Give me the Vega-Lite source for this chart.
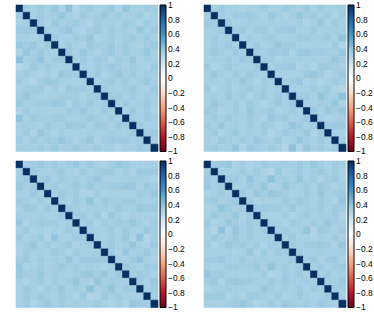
{
"$schema": "https://vega.github.io/schema/vega-lite/v6.json",
"padding": {"left": 15, "top": 4, "right": 0, "bottom": 0},
"config": {"view": {"stroke": null}, "font": "Liberation Sans"},
"data": {"values": [
{"p":"A","r":1,"c":[1,2,3,4,5,6,7,8,9,10,11,12,13,14,15,16,17,18,19,20],"v":[1,0.35,0.33,0.36,0.34,0.38,0.32,0.41,0.30,0.34,0.36,0.33,0.35,0.37,0.31,0.40,0.34,0.33,0.36,0.35]},
{"p":"A","r":2,"c":[1,2,3,4,5,6,7,8,9,10,11,12,13,14,15,16,17,18,19,20],"v":[0.35,1,0.34,0.37,0.33,0.35,0.39,0.34,0.32,0.36,0.33,0.35,0.38,0.34,0.36,0.33,0.35,0.37,0.32,0.34]},
{"p":"A","r":3,"c":[1,2,3,4,5,6,7,8,9,10,11,12,13,14,15,16,17,18,19,20],"v":[0.33,0.34,1,0.36,0.32,0.38,0.34,0.35,0.37,0.33,0.31,0.36,0.34,0.35,0.33,0.37,0.35,0.32,0.36,0.34]},
{"p":"A","r":4,"c":[1,2,3,4,5,6,7,8,9,10,11,12,13,14,15,16,17,18,19,20],"v":[0.36,0.37,0.36,1,0.35,0.33,0.36,0.40,0.34,0.32,0.35,0.37,0.33,0.36,0.34,0.35,0.33,0.38,0.34,0.36]},
{"p":"A","r":5,"c":[1,2,3,4,5,6,7,8,9,10,11,12,13,14,15,16,17,18,19,20],"v":[0.34,0.33,0.32,0.35,1,0.37,0.34,0.33,0.36,0.35,0.38,0.32,0.34,0.36,0.33,0.35,0.37,0.34,0.36,0.33]},
{"p":"A","r":6,"c":[1,2,3,4,5,6,7,8,9,10,11,12,13,14,15,16,17,18,19,20],"v":[0.38,0.35,0.38,0.33,0.37,1,0.33,0.36,0.34,0.32,0.37,0.35,0.34,0.38,0.33,0.36,0.34,0.32,0.35,0.37]},
{"p":"A","r":7,"c":[1,2,3,4,5,6,7,8,9,10,11,12,13,14,15,16,17,18,19,20],"v":[0.32,0.39,0.34,0.36,0.34,0.33,1,0.36,0.33,0.38,0.34,0.32,0.35,0.37,0.33,0.36,0.34,0.35,0.39,0.33]},
{"p":"A","r":8,"c":[1,2,3,4,5,6,7,8,9,10,11,12,13,14,15,16,17,18,19,20],"v":[0.41,0.34,0.35,0.40,0.33,0.36,0.36,1,0.34,0.36,0.33,0.37,0.35,0.32,0.36,0.34,0.38,0.33,0.35,0.34]},
{"p":"A","r":9,"c":[1,2,3,4,5,6,7,8,9,10,11,12,13,14,15,16,17,18,19,20],"v":[0.30,0.32,0.37,0.34,0.36,0.34,0.33,0.34,1,0.35,0.33,0.36,0.34,0.37,0.35,0.33,0.36,0.34,0.32,0.37]},
{"p":"A","r":10,"c":[1,2,3,4,5,6,7,8,9,10,11,12,13,14,15,16,17,18,19,20],"v":[0.34,0.36,0.33,0.32,0.35,0.32,0.38,0.36,0.35,1,0.34,0.36,0.32,0.35,0.38,0.34,0.36,0.33,0.35,0.34]},
{"p":"A","r":11,"c":[1,2,3,4,5,6,7,8,9,10,11,12,13,14,15,16,17,18,19,20],"v":[0.36,0.33,0.31,0.35,0.38,0.37,0.34,0.33,0.33,0.34,1,0.33,0.35,0.37,0.34,0.36,0.33,0.35,0.38,0.33]},
{"p":"A","r":12,"c":[1,2,3,4,5,6,7,8,9,10,11,12,13,14,15,16,17,18,19,20],"v":[0.33,0.35,0.36,0.37,0.32,0.35,0.32,0.37,0.36,0.36,0.33,1,0.36,0.34,0.33,0.35,0.37,0.34,0.32,0.36]},
{"p":"A","r":13,"c":[1,2,3,4,5,6,7,8,9,10,11,12,13,14,15,16,17,18,19,20],"v":[0.35,0.38,0.34,0.33,0.34,0.34,0.35,0.35,0.34,0.32,0.35,0.36,1,0.35,0.37,0.33,0.36,0.34,0.35,0.33]},
{"p":"A","r":14,"c":[1,2,3,4,5,6,7,8,9,10,11,12,13,14,15,16,17,18,19,20],"v":[0.37,0.34,0.35,0.36,0.36,0.38,0.37,0.32,0.37,0.35,0.37,0.34,0.35,1,0.34,0.36,0.33,0.35,0.37,0.34]},
{"p":"A","r":15,"c":[1,2,3,4,5,6,7,8,9,10,11,12,13,14,15,16,17,18,19,20],"v":[0.31,0.36,0.33,0.34,0.33,0.33,0.33,0.36,0.35,0.38,0.34,0.33,0.37,0.34,1,0.33,0.37,0.34,0.36,0.32]},
{"p":"A","r":16,"c":[1,2,3,4,5,6,7,8,9,10,11,12,13,14,15,16,17,18,19,20],"v":[0.40,0.33,0.37,0.35,0.35,0.36,0.36,0.34,0.33,0.34,0.36,0.35,0.33,0.36,0.33,1,0.35,0.33,0.36,0.34]},
{"p":"A","r":17,"c":[1,2,3,4,5,6,7,8,9,10,11,12,13,14,15,16,17,18,19,20],"v":[0.34,0.35,0.35,0.33,0.37,0.34,0.34,0.38,0.36,0.36,0.33,0.37,0.36,0.33,0.37,0.35,1,0.36,0.34,0.33]},
{"p":"A","r":18,"c":[1,2,3,4,5,6,7,8,9,10,11,12,13,14,15,16,17,18,19,20],"v":[0.33,0.37,0.32,0.38,0.34,0.32,0.35,0.33,0.34,0.33,0.35,0.34,0.34,0.35,0.34,0.33,0.36,1,0.35,0.37]},
{"p":"A","r":19,"c":[1,2,3,4,5,6,7,8,9,10,11,12,13,14,15,16,17,18,19,20],"v":[0.36,0.32,0.36,0.34,0.36,0.35,0.39,0.35,0.32,0.35,0.38,0.32,0.35,0.37,0.36,0.36,0.34,0.35,1,0.34]},
{"p":"A","r":20,"c":[1,2,3,4,5,6,7,8,9,10,11,12,13,14,15,16,17,18,19,20],"v":[0.35,0.34,0.34,0.36,0.33,0.37,0.33,0.34,0.37,0.34,0.33,0.36,0.33,0.34,0.32,0.34,0.33,0.37,0.34,1]},
{"p":"B","r":1,"c":[1,2,3,4,5,6,7,8,9,10,11,12,13,14,15,16,17,18,19,20],"v":[1,0.34,0.37,0.33,0.34,0.32,0.34,0.33,0.36,0.33,0.34,0.37,0.34,0.33,0.37,0.33,0.36,0.34,0.34,0.35]},
{"p":"B","r":2,"c":[1,2,3,4,5,6,7,8,9,10,11,12,13,14,15,16,17,18,19,20],"v":[0.34,1,0.35,0.34,0.36,0.36,0.37,0.35,0.32,0.38,0.35,0.32,0.35,0.39,0.35,0.36,0.34,0.36,0.32,0.36]},
{"p":"B","r":3,"c":[1,2,3,4,5,6,7,8,9,10,11,12,13,14,15,16,17,18,19,20],"v":[0.37,0.35,1,0.36,0.33,0.34,0.35,0.34,0.34,0.35,0.33,0.34,0.33,0.35,0.32,0.34,0.38,0.32,0.37,0.33]},
{"p":"B","r":4,"c":[1,2,3,4,5,6,7,8,9,10,11,12,13,14,15,16,17,18,19,20],"v":[0.33,0.34,0.36,1,0.35,0.37,0.33,0.36,0.37,0.33,0.36,0.36,0.38,0.34,0.34,0.37,0.33,0.35,0.35,0.34]},
{"p":"B","r":5,"c":[1,2,3,4,5,6,7,8,9,10,11,12,13,14,15,16,17,18,19,20],"v":[0.34,0.36,0.33,0.35,1,0.33,0.36,0.33,0.35,0.36,0.34,0.33,0.34,0.36,0.36,0.35,0.35,0.37,0.33,0.40]},
{"p":"B","r":6,"c":[1,2,3,4,5,6,7,8,9,10,11,12,13,14,15,16,17,18,19,20],"v":[0.32,0.36,0.34,0.37,0.33,1,0.34,0.37,0.33,0.34,0.38,0.35,0.36,0.33,0.33,0.33,0.34,0.33,0.36,0.31]},
{"p":"B","r":7,"c":[1,2,3,4,5,6,7,8,9,10,11,12,13,14,15,16,17,18,19,20],"v":[0.34,0.37,0.35,0.33,0.36,0.34,1,0.35,0.34,0.37,0.35,0.37,0.32,0.37,0.38,0.36,0.36,0.35,0.34,0.37]},
{"p":"B","r":8,"c":[1,2,3,4,5,6,7,8,9,10,11,12,13,14,15,16,17,18,19,20],"v":[0.33,0.35,0.34,0.36,0.33,0.37,0.35,1,0.36,0.35,0.32,0.34,0.35,0.35,0.34,0.34,0.33,0.34,0.38,0.35]},
{"p":"B","r":9,"c":[1,2,3,4,5,6,7,8,9,10,11,12,13,14,15,16,17,18,19,20],"v":[0.36,0.32,0.34,0.37,0.35,0.33,0.34,0.36,1,0.33,0.36,0.36,0.37,0.32,0.35,0.32,0.37,0.36,0.35,0.33]},
{"p":"B","r":10,"c":[1,2,3,4,5,6,7,8,9,10,11,12,13,14,15,16,17,18,19,20],"v":[0.33,0.38,0.35,0.33,0.36,0.34,0.37,0.35,0.33,1,0.34,0.33,0.33,0.34,0.37,0.38,0.35,0.31,0.33,0.36]},
{"p":"B","r":11,"c":[1,2,3,4,5,6,7,8,9,10,11,12,13,14,15,16,17,18,19,20],"v":[0.34,0.35,0.33,0.36,0.34,0.38,0.35,0.32,0.36,0.34,1,0.35,0.36,0.38,0.32,0.35,0.32,0.33,0.36,0.34]},
{"p":"B","r":12,"c":[1,2,3,4,5,6,7,8,9,10,11,12,13,14,15,16,17,18,19,20],"v":[0.37,0.32,0.34,0.36,0.33,0.35,0.37,0.34,0.36,0.33,0.35,1,0.34,0.33,0.34,0.36,0.34,0.37,0.32,0.30]},
{"p":"B","r":13,"c":[1,2,3,4,5,6,7,8,9,10,11,12,13,14,15,16,17,18,19,20],"v":[0.34,0.35,0.33,0.38,0.34,0.36,0.32,0.35,0.37,0.33,0.36,0.34,1,0.36,0.36,0.33,0.40,0.35,0.34,0.41]},
{"p":"B","r":14,"c":[1,2,3,4,5,6,7,8,9,10,11,12,13,14,15,16,17,18,19,20],"v":[0.33,0.39,0.35,0.34,0.36,0.33,0.37,0.35,0.32,0.34,0.38,0.33,0.36,1,0.33,0.34,0.36,0.34,0.39,0.32]},
{"p":"B","r":15,"c":[1,2,3,4,5,6,7,8,9,10,11,12,13,14,15,16,17,18,19,20],"v":[0.37,0.35,0.32,0.34,0.36,0.33,0.38,0.34,0.35,0.37,0.32,0.34,0.36,0.33,1,0.37,0.33,0.38,0.35,0.38]},
{"p":"B","r":16,"c":[1,2,3,4,5,6,7,8,9,10,11,12,13,14,15,16,17,18,19,20],"v":[0.33,0.36,0.34,0.37,0.35,0.33,0.36,0.34,0.32,0.38,0.35,0.36,0.33,0.34,0.37,1,0.35,0.32,0.33,0.34]},
{"p":"B","r":17,"c":[1,2,3,4,5,6,7,8,9,10,11,12,13,14,15,16,17,18,19,20],"v":[0.36,0.34,0.38,0.33,0.35,0.34,0.36,0.33,0.37,0.35,0.32,0.34,0.40,0.36,0.33,0.35,1,0.36,0.37,0.36]},
{"p":"B","r":18,"c":[1,2,3,4,5,6,7,8,9,10,11,12,13,14,15,16,17,18,19,20],"v":[0.34,0.36,0.32,0.35,0.37,0.33,0.35,0.34,0.36,0.31,0.33,0.37,0.35,0.34,0.38,0.32,0.36,1,0.34,0.33]},
{"p":"B","r":19,"c":[1,2,3,4,5,6,7,8,9,10,11,12,13,14,15,16,17,18,19,20],"v":[0.34,0.32,0.37,0.35,0.33,0.36,0.34,0.38,0.35,0.33,0.36,0.32,0.34,0.39,0.35,0.33,0.37,0.34,1,0.35]},
{"p":"B","r":20,"c":[1,2,3,4,5,6,7,8,9,10,11,12,13,14,15,16,17,18,19,20],"v":[0.35,0.36,0.33,0.34,0.40,0.31,0.37,0.35,0.33,0.36,0.34,0.30,0.41,0.32,0.38,0.34,0.36,0.33,0.35,1]},
{"p":"C","r":1,"c":[1,2,3,4,5,6,7,8,9,10,11,12,13,14,15,16,17,18,19,20],"v":[1,0.33,0.35,0.37,0.34,0.36,0.33,0.35,0.38,0.33,0.36,0.33,0.31,0.35,0.38,0.37,0.34,0.33,0.33,0.34]},
{"p":"C","r":2,"c":[1,2,3,4,5,6,7,8,9,10,11,12,13,14,15,16,17,18,19,20],"v":[0.33,1,0.36,0.34,0.33,0.35,0.37,0.34,0.32,0.36,0.33,0.35,0.36,0.37,0.32,0.35,0.32,0.37,0.36,0.36]},
{"p":"C","r":3,"c":[1,2,3,4,5,6,7,8,9,10,11,12,13,14,15,16,17,18,19,20],"v":[0.35,0.36,1,0.35,0.37,0.33,0.36,0.34,0.35,0.33,0.35,0.38,0.34,0.33,0.34,0.34,0.35,0.35,0.34,0.32]},
{"p":"C","r":4,"c":[1,2,3,4,5,6,7,8,9,10,11,12,13,14,15,16,17,18,19,20],"v":[0.37,0.34,0.35,1,0.34,0.36,0.33,0.35,0.37,0.34,0.37,0.34,0.35,0.36,0.36,0.38,0.37,0.32,0.37,0.35]},
{"p":"C","r":5,"c":[1,2,3,4,5,6,7,8,9,10,11,12,13,14,15,16,17,18,19,20],"v":[0.34,0.33,0.37,0.34,1,0.33,0.37,0.34,0.36,0.32,0.31,0.36,0.33,0.34,0.33,0.33,0.33,0.36,0.35,0.38]},
{"p":"C","r":6,"c":[1,2,3,4,5,6,7,8,9,10,11,12,13,14,15,16,17,18,19,20],"v":[0.36,0.35,0.33,0.36,0.33,1,0.35,0.33,0.36,0.34,0.40,0.33,0.37,0.35,0.35,0.36,0.36,0.34,0.33,0.34]},
{"p":"C","r":7,"c":[1,2,3,4,5,6,7,8,9,10,11,12,13,14,15,16,17,18,19,20],"v":[0.33,0.37,0.36,0.33,0.37,0.35,1,0.36,0.34,0.33,0.34,0.35,0.35,0.33,0.37,0.34,0.34,0.38,0.36,0.36]},
{"p":"C","r":8,"c":[1,2,3,4,5,6,7,8,9,10,11,12,13,14,15,16,17,18,19,20],"v":[0.35,0.34,0.34,0.35,0.34,0.33,0.36,1,0.35,0.37,0.33,0.37,0.32,0.38,0.34,0.32,0.35,0.33,0.34,0.33]},
{"p":"C","r":9,"c":[1,2,3,4,5,6,7,8,9,10,11,12,13,14,15,16,17,18,19,20],"v":[0.38,0.32,0.35,0.37,0.36,0.36,0.34,0.35,1,0.34,0.36,0.32,0.36,0.34,0.36,0.35,0.39,0.35,0.32,0.35]},
{"p":"C","r":10,"c":[1,2,3,4,5,6,7,8,9,10,11,12,13,14,15,16,17,18,19,20],"v":[0.33,0.36,0.33,0.34,0.32,0.34,0.33,0.37,0.34,1,0.35,0.34,0.34,0.36,0.33,0.37,0.33,0.34,0.37,0.34]},
{"p":"C","r":11,"c":[1,2,3,4,5,6,7,8,9,10,11,12,13,14,15,16,17,18,19,20],"v":[0.36,0.33,0.35,0.37,0.31,0.40,0.34,0.33,0.36,0.35,1,0.35,0.33,0.36,0.34,0.38,0.32,0.41,0.30,0.34]},
{"p":"C","r":12,"c":[1,2,3,4,5,6,7,8,9,10,11,12,13,14,15,16,17,18,19,20],"v":[0.33,0.35,0.38,0.34,0.36,0.33,0.35,0.37,0.32,0.34,0.35,1,0.34,0.37,0.33,0.35,0.39,0.34,0.32,0.36]},
{"p":"C","r":13,"c":[1,2,3,4,5,6,7,8,9,10,11,12,13,14,15,16,17,18,19,20],"v":[0.31,0.36,0.34,0.35,0.33,0.37,0.35,0.32,0.36,0.34,0.33,0.34,1,0.36,0.32,0.38,0.34,0.35,0.37,0.33]},
{"p":"C","r":14,"c":[1,2,3,4,5,6,7,8,9,10,11,12,13,14,15,16,17,18,19,20],"v":[0.35,0.37,0.33,0.36,0.34,0.35,0.33,0.38,0.34,0.36,0.36,0.37,0.36,1,0.35,0.33,0.36,0.40,0.34,0.32]},
{"p":"C","r":15,"c":[1,2,3,4,5,6,7,8,9,10,11,12,13,14,15,16,17,18,19,20],"v":[0.38,0.32,0.34,0.36,0.33,0.35,0.37,0.34,0.36,0.33,0.34,0.33,0.32,0.35,1,0.37,0.34,0.33,0.36,0.35]},
{"p":"C","r":16,"c":[1,2,3,4,5,6,7,8,9,10,11,12,13,14,15,16,17,18,19,20],"v":[0.37,0.35,0.34,0.38,0.33,0.36,0.34,0.32,0.35,0.37,0.38,0.35,0.38,0.33,0.37,1,0.33,0.36,0.34,0.32]},
{"p":"C","r":17,"c":[1,2,3,4,5,6,7,8,9,10,11,12,13,14,15,16,17,18,19,20],"v":[0.34,0.32,0.35,0.37,0.33,0.36,0.34,0.35,0.39,0.33,0.32,0.39,0.34,0.36,0.34,0.33,1,0.36,0.33,0.38]},
{"p":"C","r":18,"c":[1,2,3,4,5,6,7,8,9,10,11,12,13,14,15,16,17,18,19,20],"v":[0.33,0.37,0.35,0.32,0.36,0.34,0.38,0.33,0.35,0.34,0.41,0.34,0.35,0.40,0.33,0.36,0.36,1,0.34,0.36]},
{"p":"C","r":19,"c":[1,2,3,4,5,6,7,8,9,10,11,12,13,14,15,16,17,18,19,20],"v":[0.33,0.36,0.34,0.37,0.35,0.33,0.36,0.34,0.32,0.37,0.30,0.32,0.37,0.34,0.36,0.34,0.33,0.34,1,0.35]},
{"p":"C","r":20,"c":[1,2,3,4,5,6,7,8,9,10,11,12,13,14,15,16,17,18,19,20],"v":[0.34,0.36,0.32,0.35,0.38,0.34,0.36,0.33,0.35,0.34,0.34,0.36,0.33,0.32,0.35,0.32,0.38,0.36,0.35,1]},
{"p":"D","r":1,"c":[1,2,3,4,5,6,7,8,9,10,11,12,13,14,15,16,17,18,19,20],"v":[1,0.35,0.36,0.38,0.32,0.35,0.32,0.33,0.36,0.34,0.34,0.35,0.33,0.36,0.34,0.38,0.35,0.32,0.36,0.34]},
{"p":"D","r":2,"c":[1,2,3,4,5,6,7,8,9,10,11,12,13,14,15,16,17,18,19,20],"v":[0.35,1,0.34,0.33,0.34,0.36,0.34,0.37,0.32,0.30,0.37,0.32,0.34,0.36,0.33,0.35,0.37,0.34,0.36,0.33]},
{"p":"D","r":3,"c":[1,2,3,4,5,6,7,8,9,10,11,12,13,14,15,16,17,18,19,20],"v":[0.36,0.34,1,0.36,0.36,0.33,0.40,0.35,0.34,0.41,0.34,0.35,0.33,0.38,0.34,0.36,0.32,0.35,0.37,0.33]},
{"p":"D","r":4,"c":[1,2,3,4,5,6,7,8,9,10,11,12,13,14,15,16,17,18,19,20],"v":[0.38,0.33,0.36,1,0.33,0.34,0.36,0.34,0.39,0.32,0.33,0.39,0.35,0.34,0.36,0.33,0.37,0.35,0.32,0.34]},
{"p":"D","r":5,"c":[1,2,3,4,5,6,7,8,9,10,11,12,13,14,15,16,17,18,19,20],"v":[0.32,0.34,0.36,0.33,1,0.37,0.33,0.38,0.35,0.38,0.37,0.35,0.32,0.34,0.36,0.33,0.38,0.34,0.35,0.37]},
{"p":"D","r":6,"c":[1,2,3,4,5,6,7,8,9,10,11,12,13,14,15,16,17,18,19,20],"v":[0.35,0.36,0.33,0.34,0.37,1,0.35,0.32,0.33,0.34,0.33,0.36,0.34,0.37,0.35,0.33,0.36,0.34,0.32,0.38]},
{"p":"D","r":7,"c":[1,2,3,4,5,6,7,8,9,10,11,12,13,14,15,16,17,18,19,20],"v":[0.32,0.34,0.40,0.36,0.33,0.35,1,0.36,0.37,0.36,0.36,0.34,0.38,0.33,0.35,0.34,0.36,0.33,0.37,0.35]},
{"p":"D","r":8,"c":[1,2,3,4,5,6,7,8,9,10,11,12,13,14,15,16,17,18,19,20],"v":[0.33,0.37,0.35,0.34,0.38,0.32,0.36,1,0.34,0.33,0.34,0.36,0.32,0.35,0.37,0.33,0.35,0.34,0.36,0.31]},
{"p":"D","r":9,"c":[1,2,3,4,5,6,7,8,9,10,11,12,13,14,15,16,17,18,19,20],"v":[0.36,0.32,0.34,0.39,0.35,0.33,0.37,0.34,1,0.35,0.34,0.32,0.37,0.35,0.33,0.36,0.34,0.38,0.35,0.33]},
{"p":"D","r":10,"c":[1,2,3,4,5,6,7,8,9,10,11,12,13,14,15,16,17,18,19,20],"v":[0.34,0.30,0.41,0.32,0.38,0.34,0.36,0.33,0.35,1,0.35,0.36,0.33,0.34,0.40,0.31,0.37,0.35,0.33,0.36]},
{"p":"D","r":11,"c":[1,2,3,4,5,6,7,8,9,10,11,12,13,14,15,16,17,18,19,20],"v":[0.34,0.37,0.34,0.33,0.37,0.33,0.36,0.34,0.34,0.35,1,0.34,0.37,0.33,0.34,0.32,0.34,0.33,0.36,0.33]},
{"p":"D","r":12,"c":[1,2,3,4,5,6,7,8,9,10,11,12,13,14,15,16,17,18,19,20],"v":[0.35,0.32,0.35,0.39,0.35,0.36,0.34,0.36,0.32,0.36,0.34,1,0.35,0.34,0.36,0.36,0.37,0.35,0.32,0.38]},
{"p":"D","r":13,"c":[1,2,3,4,5,6,7,8,9,10,11,12,13,14,15,16,17,18,19,20],"v":[0.33,0.34,0.33,0.35,0.32,0.34,0.38,0.32,0.37,0.33,0.37,0.35,1,0.36,0.33,0.34,0.35,0.34,0.34,0.35]},
{"p":"D","r":14,"c":[1,2,3,4,5,6,7,8,9,10,11,12,13,14,15,16,17,18,19,20],"v":[0.36,0.36,0.38,0.34,0.34,0.37,0.33,0.35,0.35,0.34,0.33,0.34,0.36,1,0.35,0.37,0.33,0.36,0.37,0.33]},
{"p":"D","r":15,"c":[1,2,3,4,5,6,7,8,9,10,11,12,13,14,15,16,17,18,19,20],"v":[0.34,0.33,0.34,0.36,0.36,0.35,0.35,0.37,0.33,0.40,0.34,0.36,0.33,0.35,1,0.33,0.36,0.33,0.35,0.36]},
{"p":"D","r":16,"c":[1,2,3,4,5,6,7,8,9,10,11,12,13,14,15,16,17,18,19,20],"v":[0.38,0.35,0.36,0.33,0.33,0.33,0.34,0.33,0.36,0.31,0.32,0.36,0.34,0.37,0.33,1,0.34,0.37,0.33,0.34]},
{"p":"D","r":17,"c":[1,2,3,4,5,6,7,8,9,10,11,12,13,14,15,16,17,18,19,20],"v":[0.35,0.37,0.32,0.37,0.38,0.36,0.36,0.35,0.34,0.37,0.34,0.37,0.35,0.33,0.36,0.34,1,0.35,0.34,0.37]},
{"p":"D","r":18,"c":[1,2,3,4,5,6,7,8,9,10,11,12,13,14,15,16,17,18,19,20],"v":[0.32,0.34,0.35,0.35,0.34,0.34,0.33,0.34,0.38,0.35,0.33,0.35,0.34,0.36,0.33,0.37,0.35,1,0.36,0.35]},
{"p":"D","r":19,"c":[1,2,3,4,5,6,7,8,9,10,11,12,13,14,15,16,17,18,19,20],"v":[0.36,0.36,0.37,0.32,0.35,0.32,0.37,0.36,0.35,0.33,0.36,0.32,0.34,0.37,0.35,0.33,0.34,0.36,1,0.33]},
{"p":"D","r":20,"c":[1,2,3,4,5,6,7,8,9,10,11,12,13,14,15,16,17,18,19,20],"v":[0.34,0.33,0.33,0.34,0.37,0.38,0.35,0.31,0.33,0.36,0.33,0.38,0.35,0.33,0.36,0.34,0.37,0.35,0.33,1]}
]},
"transform": [{"flatten": ["c", "v"]}],
"columns": 2,
"bounds": "flush",
"spacing": {"row": 9, "column": 46},
"resolve": {"scale": {"color": "independent"}},
"concat": [
 {"width": 142, "height": 146.5, "transform": [{"filter": "datum.p == 'A'"}], "mark": {"type": "rect", "strokeWidth": 0.6},
  "encoding": {"x": {"field": "c", "type": "ordinal", "axis": null}, "y": {"field": "r", "type": "ordinal", "axis": null},
   "stroke": {"field": "v", "type": "quantitative", "legend": null, "scale": {"domain": [-1.001,-0.8,-0.6,-0.4,-0.2,0,0.2,0.4,0.6,0.8,1.001], "range": ["#67001F","#B2182B","#D6604D","#F4A582","#FDDBC7","#FFFFFF","#D1E5F0","#92C5DE","#4393C3","#2166AC","#053061"], "interpolate": "rgb"}},
   "color": {"field": "v", "type": "quantitative", "scale": {"domain": [-1.001,-0.8,-0.6,-0.4,-0.2,0,0.2,0.4,0.6,0.8,1.001], "range": ["#67001F","#B2182B","#D6604D","#F4A582","#FDDBC7","#FFFFFF","#D1E5F0","#92C5DE","#4393C3","#2166AC","#053061"], "interpolate": "rgb"},
    "legend": {"title": null, "gradientLength": 146.5, "gradientThickness": 6, "gradientStrokeColor": "#000", "gradientStrokeWidth": 1, "values": [1,0.8,0.6,0.4,0.2,0,-0.2,-0.4,-0.6,-0.8,-1], "format": "~g", "labelFontSize": 8.5, "labelColor": "#000", "labelOffset": 2, "labelOverlap": false, "offset": 2, "padding": 0}}}},
 {"width": 142, "height": 146.5, "transform": [{"filter": "datum.p == 'B'"}], "mark": {"type": "rect", "strokeWidth": 0.6},
  "encoding": {"x": {"field": "c", "type": "ordinal", "axis": null}, "y": {"field": "r", "type": "ordinal", "axis": null},
   "stroke": {"field": "v", "type": "quantitative", "legend": null, "scale": {"domain": [-1.001,-0.8,-0.6,-0.4,-0.2,0,0.2,0.4,0.6,0.8,1.001], "range": ["#67001F","#B2182B","#D6604D","#F4A582","#FDDBC7","#FFFFFF","#D1E5F0","#92C5DE","#4393C3","#2166AC","#053061"], "interpolate": "rgb"}},
   "color": {"field": "v", "type": "quantitative", "scale": {"domain": [-1.001,-0.8,-0.6,-0.4,-0.2,0,0.2,0.4,0.6,0.8,1.001], "range": ["#67001F","#B2182B","#D6604D","#F4A582","#FDDBC7","#FFFFFF","#D1E5F0","#92C5DE","#4393C3","#2166AC","#053061"], "interpolate": "rgb"},
    "legend": {"title": null, "gradientLength": 146.5, "gradientThickness": 6, "gradientStrokeColor": "#000", "gradientStrokeWidth": 1, "values": [1,0.8,0.6,0.4,0.2,0,-0.2,-0.4,-0.6,-0.8,-1], "format": "~g", "labelFontSize": 8.5, "labelColor": "#000", "labelOffset": 2, "labelOverlap": false, "offset": 2, "padding": 0}}}},
 {"width": 142, "height": 146.5, "transform": [{"filter": "datum.p == 'C'"}], "mark": {"type": "rect", "strokeWidth": 0.6},
  "encoding": {"x": {"field": "c", "type": "ordinal", "axis": null}, "y": {"field": "r", "type": "ordinal", "axis": null},
   "stroke": {"field": "v", "type": "quantitative", "legend": null, "scale": {"domain": [-1.001,-0.8,-0.6,-0.4,-0.2,0,0.2,0.4,0.6,0.8,1.001], "range": ["#67001F","#B2182B","#D6604D","#F4A582","#FDDBC7","#FFFFFF","#D1E5F0","#92C5DE","#4393C3","#2166AC","#053061"], "interpolate": "rgb"}},
   "color": {"field": "v", "type": "quantitative", "scale": {"domain": [-1.001,-0.8,-0.6,-0.4,-0.2,0,0.2,0.4,0.6,0.8,1.001], "range": ["#67001F","#B2182B","#D6604D","#F4A582","#FDDBC7","#FFFFFF","#D1E5F0","#92C5DE","#4393C3","#2166AC","#053061"], "interpolate": "rgb"},
    "legend": {"title": null, "gradientLength": 146.5, "gradientThickness": 6, "gradientStrokeColor": "#000", "gradientStrokeWidth": 1, "values": [1,0.8,0.6,0.4,0.2,0,-0.2,-0.4,-0.6,-0.8,-1], "format": "~g", "labelFontSize": 8.5, "labelColor": "#000", "labelOffset": 2, "labelOverlap": false, "offset": 2, "padding": 0}}}},
 {"width": 142, "height": 146.5, "transform": [{"filter": "datum.p == 'D'"}], "mark": {"type": "rect", "strokeWidth": 0.6},
  "encoding": {"x": {"field": "c", "type": "ordinal", "axis": null}, "y": {"field": "r", "type": "ordinal", "axis": null},
   "stroke": {"field": "v", "type": "quantitative", "legend": null, "scale": {"domain": [-1.001,-0.8,-0.6,-0.4,-0.2,0,0.2,0.4,0.6,0.8,1.001], "range": ["#67001F","#B2182B","#D6604D","#F4A582","#FDDBC7","#FFFFFF","#D1E5F0","#92C5DE","#4393C3","#2166AC","#053061"], "interpolate": "rgb"}},
   "color": {"field": "v", "type": "quantitative", "scale": {"domain": [-1.001,-0.8,-0.6,-0.4,-0.2,0,0.2,0.4,0.6,0.8,1.001], "range": ["#67001F","#B2182B","#D6604D","#F4A582","#FDDBC7","#FFFFFF","#D1E5F0","#92C5DE","#4393C3","#2166AC","#053061"], "interpolate": "rgb"},
    "legend": {"title": null, "gradientLength": 146.5, "gradientThickness": 6, "gradientStrokeColor": "#000", "gradientStrokeWidth": 1, "values": [1,0.8,0.6,0.4,0.2,0,-0.2,-0.4,-0.6,-0.8,-1], "format": "~g", "labelFontSize": 8.5, "labelColor": "#000", "labelOffset": 2, "labelOverlap": false, "offset": 2, "padding": 0}}}}
]
}
